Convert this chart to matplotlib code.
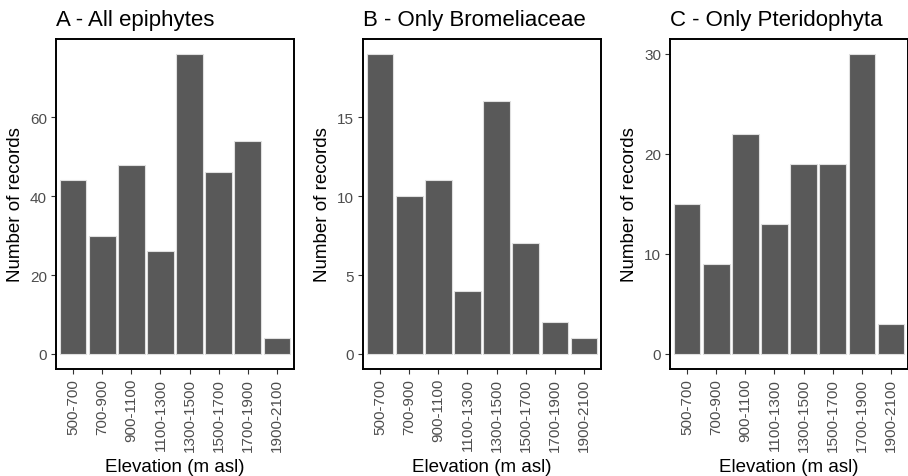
import matplotlib
matplotlib.use("Agg")
import matplotlib.pyplot as plt

plt.rcParams['font.family'] = ['Liberation Sans', 'DejaVu Sans']

categories = ["500-700", "700-900", "900-1100", "1100-1300",
              "1300-1500", "1500-1700", "1700-1900", "1900-2100"]
all_epiphytes = [44, 30, 48, 26, 76, 46, 54, 4]
bromeliaceae = [19, 10, 11, 4, 16, 7, 2, 1]
pteridophyta = [15, 9, 22, 13, 19, 19, 30, 3]

titles = ["A - All epiphytes", "B - Only Bromeliaceae", "C - Only Pteridophyta"]
series = [all_epiphytes, bromeliaceae, pteridophyta]
yticks = [[0, 20, 40, 60], [0, 5, 10, 15], [0, 10, 20, 30]]

W, H = 908, 477
fig = plt.figure(figsize=(W / 100, H / 100), dpi=100)
lefts = [56, 363, 670]
for left, title, vals, yt in zip(lefts, titles, series, yticks):
    ax = fig.add_axes([left / W, 1 - 370 / H, 238 / W, 330 / H])
    x = list(range(len(categories)))
    ax.bar(x, vals, width=0.9, color='#595959', edgecolor='#e0e0e0', linewidth=0.8)
    mx = max(vals)
    ax.set_ylim(-0.05 * mx, 1.05 * mx)
    ax.set_xlim(-0.6, len(categories) - 0.4)
    ax.set_xticks(x)
    ax.set_xticklabels(categories, rotation=90, fontsize=11, color='#4d4d4d')
    ax.set_yticks(yt)
    ax.set_yticklabels([str(v) for v in yt], fontsize=11, color='#4d4d4d')
    ax.tick_params(axis='both', length=3.5, width=0.8, color='#333333', pad=3)
    for s in ax.spines.values():
        s.set_linewidth(1.4)
        s.set_color('black')
    ax.set_xlabel("Elevation (m asl)", fontsize=13.5, labelpad=5)
    ax.set_ylabel("Number of records", fontsize=13.5, labelpad=4)
    ax.set_title(title, fontsize=16, loc='left', x=0.0, pad=10)

fig.savefig("out.png", dpi=100)
